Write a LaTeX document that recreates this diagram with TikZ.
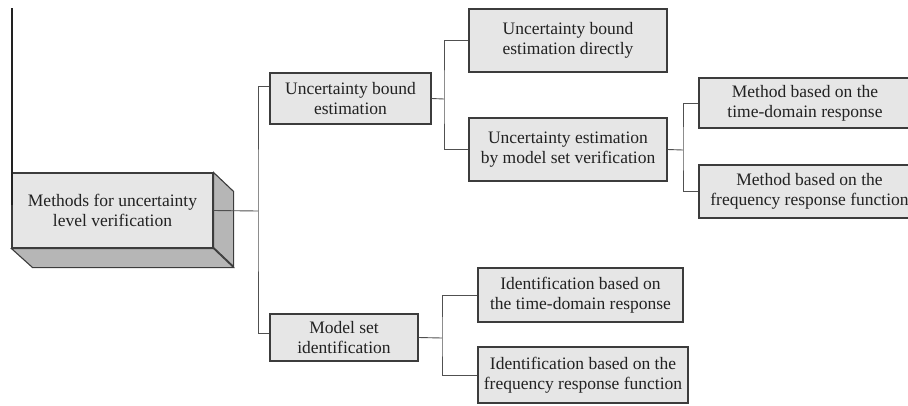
\documentclass[tikz,border=0pt]{standalone}
\usepackage{fontspec}
\setmainfont{Liberation Serif}
\definecolor{boxfill}{HTML}{E6E6E6}
\definecolor{sidefill}{HTML}{B6B6B6}
\definecolor{edge}{HTML}{3C3C3C}
\definecolor{wire}{HTML}{505050}
\definecolor{ink}{HTML}{222222}
\begin{document}
\begin{tikzpicture}[x=1pt,y=-1pt,
  treebox/.style={draw=edge, line width=1.1pt, fill=boxfill, inner sep=0pt,
    align=center, text=ink, font=\fontsize{17.5}{20}\selectfont},
  wiring/.style={draw=wire, line width=0.9pt}]
\useasboundingbox (0,0) rectangle (908,405);

% root block drawn as an extruded box
\node[treebox, minimum width=201pt, minimum height=75pt] (main) at (112.5,210.5)
  {Methods for uncertainty\\level verification};
\filldraw[fill=sidefill, draw=edge, line width=1.1pt]
  (main.north east) -- ++(20,19) -- ++(0,75) -- ++(-20,-19) -- cycle;
\filldraw[fill=sidefill, draw=edge, line width=1.1pt]
  (main.south west) -- (main.south east) -- ++(20,19) -- ++(-201,0) -- cycle;
\coordinate (lt) at (12,8);
\draw[draw=ink, line width=1.2pt] (lt) -- (12,205);

% second level
\node[treebox, minimum width=161pt, minimum height=51pt] (ube) at (350.5,98.5)
  {Uncertainty bound\\estimation};
\node[treebox, minimum width=148pt, minimum height=47pt] (msi) at (344,337.5)
  {Model set\\identification};

% third level
\node[treebox, minimum width=198pt, minimum height=63pt] (ubed) at (568,40.5)
  {Uncertainty bound\\estimation directly};
\node[treebox, minimum width=198pt, minimum height=63pt] (uemsv) at (568,149.5)
  {Uncertainty estimation\\by model set verification};
\node[treebox, minimum width=205pt, minimum height=54pt] (itd) at (580.5,295)
  {Identification based on\\the time-domain response};
\node[treebox, minimum width=210pt, minimum height=56pt] (ifrf) at (583,375)
  {Identification based on the\\frequency response function};

% fourth level
\node[treebox, minimum width=212pt, minimum height=50pt] (mtd) at (805,103)
  {Method based on the\\time-domain response};
\node[treebox, minimum width=221pt, minimum height=53pt] (mfrf) at (809.5,191.5)
  {Method based on the\\frequency response function};

% connectors
\coordinate (j1) at (258,211);
\draw[wiring] (main.east) -- (j1);
\draw[wiring] ([yshift=12.5pt]ube.west) -| (j1) |- ([yshift=4.5pt]msi.west);

\coordinate (j2) at (444,99);
\draw[wiring] (ube.east) -- (j2);
\draw[wiring] (ubed.west) -| (j2) |- (uemsv.west);

\coordinate (j3) at (683,150);
\draw[wiring] (uemsv.east) -- (j3);
\draw[wiring] (mtd.west) -| (j3) |- (mfrf.west);

\coordinate (j4) at (442,338);
\draw[wiring] (msi.east) -- (j4);
\draw[wiring] (itd.west) -| (j4) |- (ifrf.west);
\end{tikzpicture}
\end{document}
